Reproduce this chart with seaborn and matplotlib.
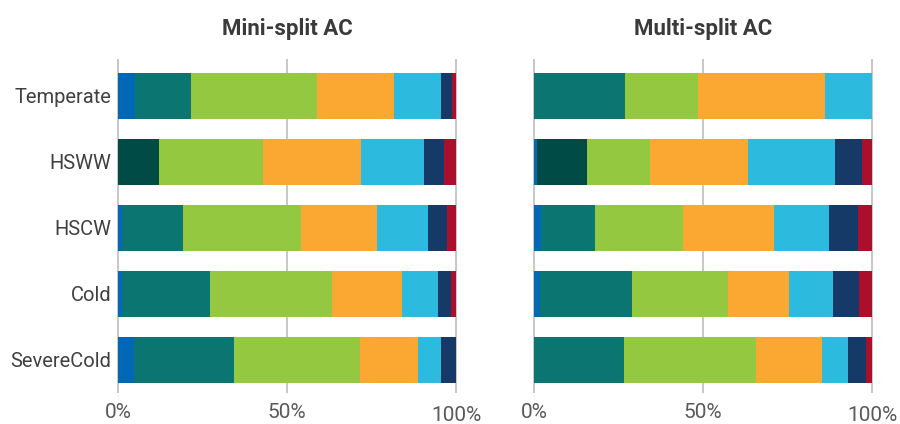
import matplotlib
matplotlib.use("Agg")
import matplotlib.pyplot as plt
import seaborn as sns
import pandas as pd
import numpy as np

zones = ["Temperate", "HSWW", "HSCW", "Cold", "SevereCold"]
series = ["S1", "S2", "S3", "S4", "S5", "S6", "S7", "S8"]
colors = ["#0068B5", "#0B7671", "#004B46", "#94C841", "#FAA831", "#2CBADF", "#153A68", "#AB0F2B"]

mini_s1 = [4.9, 0.0, 1.2, 1.2, 4.7]
mini_s2 = [16.8, 0.0, 17.9, 26.1, 29.7]
mini_s3 = [0.0, 12.0, 0.0, 0.0, 0.0]
mini_s4 = [37.1, 30.9, 35.0, 36.0, 37.1]
mini_s5 = [23.0, 28.9, 22.4, 20.6, 17.4]
mini_s6 = [13.9, 18.6, 15.1, 10.9, 6.8]
mini_s7 = [3.2, 6.2, 5.8, 3.7, 4.3]
mini_s8 = [1.1, 3.4, 2.6, 1.5, 0.0]

multi_s1 = [0.0, 0.9, 2.1, 1.7, 0.0]
multi_s2 = [26.8, 0.0, 15.9, 27.2, 26.5]
multi_s3 = [0.0, 14.7, 0.0, 0.0, 0.0]
multi_s4 = [21.8, 18.6, 26.1, 28.5, 39.2]
multi_s5 = [37.4, 29.1, 26.9, 18.0, 19.4]
multi_s6 = [14.0, 25.9, 16.4, 13.2, 7.9]
multi_s7 = [0.0, 7.9, 8.5, 7.7, 5.2]
multi_s8 = [0.0, 2.9, 4.1, 3.7, 1.8]

titles = ["Mini-split AC", "Multi-split AC"]
xticks = [0, 50, 100]
xticklabels = ["0%", "50%", "100%"]

panels = [
    [mini_s1, mini_s2, mini_s3, mini_s4, mini_s5, mini_s6, mini_s7, mini_s8],
    [multi_s1, multi_s2, multi_s3, multi_s4, multi_s5, multi_s6, multi_s7, multi_s8],
]

sns.set_style("white")
plt.rcParams["font.family"] = ["Roboto", "DejaVu Sans"]

fig = plt.figure(figsize=(9, 4.24), dpi=100)
W, H = 900.0, 424.0
ax_top, ax_bot = 59.0, 393.0
lefts = [117.0, 533.0]
width = 340.0
axes = [fig.add_axes([l / W, 1 - ax_bot / H, width / W, (ax_bot - ax_top) / H]) for l in lefts]

for pi, ax in enumerate(axes):
    vals = panels[pi]
    df = pd.DataFrame({"zone": zones})
    cum = np.zeros(len(zones))
    cums = []
    for v in vals:
        cum = cum + np.array(v)
        cums.append(cum.copy())
    for i in range(len(series) - 1, -1, -1):
        df["c"] = cums[i]
        sns.barplot(data=df, x="c", y="zone", orient="h", color=colors[i],
                    saturation=1, width=0.7, errorbar=None, linewidth=0,
                    edgecolor="none", ax=ax, order=zones)
    ax.set_xlim(-0.3, 100.3)
    ax.set_ylim(4.5, -0.56)
    ax.set_xlabel("")
    ax.set_ylabel("")
    for s in ax.spines.values():
        s.set_visible(False)
    ax.set_axisbelow(True)
    ax.xaxis.grid(True, color="#BFBFBF", linewidth=1.2)
    ax.yaxis.grid(False)
    ax.set_xticks(xticks)
    ax.set_xticklabels(xticklabels)
    ax.tick_params(axis="x", length=0, pad=7, labelsize=15, labelcolor="#595959")
    if pi == 0:
        ax.tick_params(axis="y", length=0, pad=4, labelsize=14.5, labelcolor="#404040")
    else:
        ax.set_yticklabels([])
        ax.tick_params(axis="y", length=0)
    ax.set_title(titles[pi], fontsize=16, fontweight="bold", color="#3A3A3A", pad=17)
    # last tick label sits a little lower in the reference
    last = ax.xaxis.get_major_ticks()[-1]
    last.label1.set_y(-0.011)

fig.savefig("out.png", dpi=100, facecolor="white")
